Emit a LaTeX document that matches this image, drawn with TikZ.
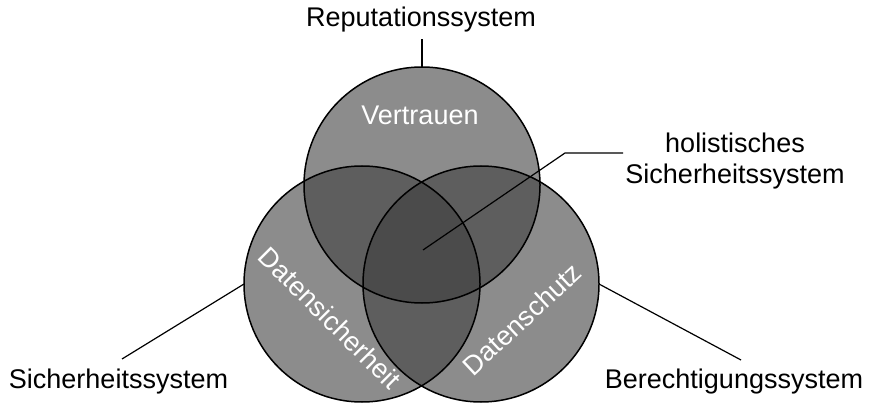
\documentclass[tikz,border=0pt]{standalone}
\usepackage{fontspec}
\setmainfont{Liberation Sans}
\begin{document}
\begin{tikzpicture}[x=1pt,y=-1pt,
  lbl/.style={font=\fontsize{27}{31}\selectfont, inner sep=0pt},
  inlbl/.style={lbl, text=white},
  ring/.style={draw=black, line width=1.5pt},
  leader/.style={draw=black, line width=1.2pt}]
  \definecolor{one}{HTML}{8C8C8C}
  \definecolor{two}{HTML}{5E5E5E}
  \definecolor{three}{HTML}{4B4B4B}
  \useasboundingbox[fill=white] (0,0) rectangle (877,403);

  % circle centres
  \coordinate (T) at (422,185);
  \coordinate (L) at (362,284);
  \coordinate (R) at (481,284);
  \def\rad{118pt}

  % single regions
  \fill[one] (T) circle[radius=\rad];
  \fill[one] (L) circle[radius=\rad];
  \fill[one] (R) circle[radius=\rad];
  % pairwise overlaps
  \begin{scope}
    \clip (T) circle[radius=\rad];
    \fill[two] (L) circle[radius=\rad];
    \fill[two] (R) circle[radius=\rad];
  \end{scope}
  \begin{scope}
    \clip (L) circle[radius=\rad];
    \fill[two] (R) circle[radius=\rad];
  \end{scope}
  % triple overlap
  \begin{scope}
    \clip (T) circle[radius=\rad];
    \clip (L) circle[radius=\rad];
    \fill[three] (R) circle[radius=\rad];
  \end{scope}
  % outlines
  \draw[ring] (T) circle[radius=\rad];
  \draw[ring] (L) circle[radius=\rad];
  \draw[ring] (R) circle[radius=\rad];

  % labels inside the circles
  \node[inlbl, anchor=base] (vt) at (420,125) {Vertrauen};
  \node[inlbl, rotate=-45] (ds) at (330,318) {Datensicherheit};
  \node[inlbl, rotate=43] (dz) at (522,319) {Datenschutz};

  % outer labels
  \node[lbl, anchor=base] (rep) at (421,27) {Reputationssystem};
  \node[lbl, anchor=base] (sic) at (118.5,388) {Sicherheitssystem};
  \node[lbl, anchor=base] (ber) at (734,388) {Berechtigungssystem};
  \node[lbl, align=center] (hol) at (735,160.7) {holistisches\\Sicherheitssystem};

  % leader lines
  \coordinate (tTop) at (422,67);
  \coordinate (tEnd) at (422,39);
  \coordinate (lStart) at (244,284);
  \coordinate (lEnd) at (122,359);
  \coordinate (rStart) at (599,284);
  \coordinate (rEnd) at (741,360);
  \coordinate (hStart) at (423,250);
  \coordinate (hKnee) at (565,153);
  \coordinate (hEnd) at (623,153);
  \draw[leader] (tTop) -- (tEnd);
  \draw[leader] (lStart) -- (lEnd);
  \draw[leader] (rStart) -- (rEnd);
  \draw[leader] (hStart) -- (hKnee) -- (hEnd);
\end{tikzpicture}
\end{document}
